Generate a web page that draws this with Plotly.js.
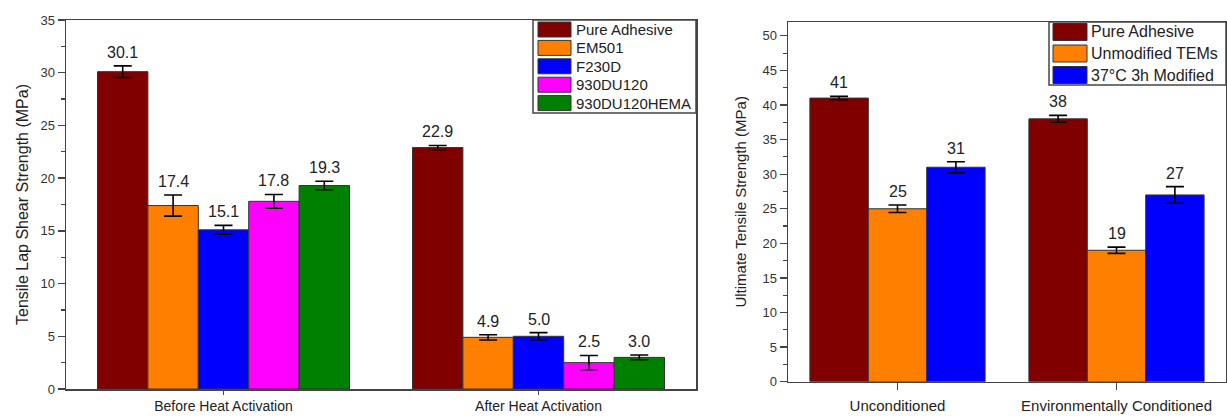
<!DOCTYPE html>
<html>
<head>
<meta charset="utf-8">
<script src="https://cdn.plot.ly/plotly-3.0.1.min.js"></script>
<style>html,body{margin:0;padding:0;background:#fff;}#chart{width:1227px;height:416px;}</style>
</head>
<body>
<div id="chart"></div>
<script>
// ---- Data: left chart (Tensile lap shear strength) ----
const lapCategories = ['Before Heat Activation', 'After Heat Activation'];
const lapSeriesNames = ['Pure Adhesive', 'EM501', 'F230D', '930DU120', '930DU120HEMA'];
const lapPure = [30.1, 22.9];
const lapPureErr = [0.55, 0.2];
const lapEM501 = [17.4, 4.9];
const lapEM501Err = [1.0, 0.25];
const lapF230D = [15.1, 5.0];
const lapF230DErr = [0.42, 0.35];
const lap930DU120 = [17.8, 2.5];
const lap930DU120Err = [0.65, 0.68];
const lap930DU120HEMA = [19.3, 3.0];
const lap930DU120HEMAErr = [0.4, 0.23];

// ---- Data: right chart (Ultimate tensile strength) ----
const utsCategories = ['Unconditioned', 'Environmentally Conditioned'];
const utsSeriesNames = ['Pure Adhesive', 'Unmodified TEMs', '37°C 3h Modified'];
const utsPure = [41, 38];
const utsPureErr = [0.25, 0.5];
const utsUnmodified = [25, 19];
const utsUnmodifiedErr = [0.55, 0.45];
const utsModified = [31, 27];
const utsModifiedErr = [0.8, 1.2];

// ---- Styling ----
const W = 1227, H = 416;
const px = x => x / W;
const py = y => 1 - y / H;
const FONT = 'Arial, "Liberation Sans", sans-serif';
const AX = '#444';
const lapColors = ['#800000', '#FF8000', '#0000FF', '#FF00FF', '#008000'];
const utsColors = ['#800000', '#FF8000', '#0000FF'];

const lapVals = [lapPure, lapEM501, lapF230D, lap930DU120, lap930DU120HEMA];
const lapErrs = [lapPureErr, lapEM501Err, lapF230DErr, lap930DU120Err, lap930DU120HEMAErr];
const utsVals = [utsPure, utsUnmodified, utsModified];
const utsErrs = [utsPureErr, utsUnmodifiedErr, utsModifiedErr];

const traces = [];
const annotations = [];
const shapes = [];

function addGroup(cats, names, vals, errs, colors, xa, ya, capW, fmt) {
  const n = names.length;
  names.forEach((nm, j) => {
    traces.push({
      type: 'bar', name: nm, x: cats, y: vals[j], xaxis: xa, yaxis: ya,
      showlegend: false,
      marker: {color: colors[j], line: {color: '#333', width: 1}},
      error_y: {type: 'data', array: errs[j], visible: true, color: '#000', thickness: 1.6, width: capW},
      hoverinfo: 'x+y+name'
    });
    vals[j].forEach((v, i) => {
      annotations.push({
        x: i + (j - (n - 1) / 2) * (0.8 / n), y: v + errs[j][i],
        xref: xa, yref: ya, text: fmt(v), showarrow: false,
        yanchor: 'bottom', yshift: 3,
        font: {family: FONT, size: 16, color: '#222'}
      });
    });
  });
}
addGroup(lapCategories, lapSeriesNames, lapVals, lapErrs, lapColors, 'x', 'y', 9, v => v.toFixed(1));
addGroup(utsCategories, utsSeriesNames, utsVals, utsErrs, utsColors, 'x2', 'y2', 9, v => String(v));

// ---- Custom legends (box + swatches + text) ----
function addLegend(names, colors, box, sw, rowY0, rowStep, swH, textX, fontSize) {
  shapes.push({type: 'rect', xref: 'paper', yref: 'paper',
    x0: px(box[0]), x1: px(box[1]), y0: py(box[2]), y1: py(box[3]),
    line: {color: AX, width: 1.5}, fillcolor: 'rgba(255,255,255,1)', layer: 'above'});
  names.forEach((nm, k) => {
    const cy = rowY0 + k * rowStep;
    shapes.push({type: 'rect', xref: 'paper', yref: 'paper',
      x0: px(sw[0]), x1: px(sw[1]), y0: py(cy - swH / 2), y1: py(cy + swH / 2),
      line: {color: '#333', width: 1}, fillcolor: colors[k], layer: 'above'});
    annotations.push({xref: 'paper', yref: 'paper', x: px(textX), y: py(cy),
      xanchor: 'left', yanchor: 'middle', text: nm, showarrow: false,
      font: {family: FONT, size: fontSize, color: '#222'}});
  });
}
addLegend(lapSeriesNames, lapColors, [533, 696, 20, 113], [538, 571], 29.5, 18.4, 15, 574, 15);
addLegend(utsSeriesNames, utsColors, [1049, 1226, 22, 85], [1053, 1087], 32, 21.5, 17, 1089, 16);

const yBase = {
  showgrid: false, zeroline: false, showline: true, mirror: true,
  linecolor: AX, linewidth: 1.5, ticks: 'outside', ticklen: 7, tickwidth: 1.3, tickcolor: AX,
  tickfont: {family: FONT, size: 13, color: '#333'},
  minor: {dtick: 2.5, ticks: 'outside', ticklen: 4, tickwidth: 1.2, tickcolor: AX}
};
const xBase = {
  type: 'category', range: [-0.5, 1.5], showgrid: false, zeroline: false, showline: true, mirror: true,
  linecolor: AX, linewidth: 1.5, ticks: 'outside', ticklen: 5, tickwidth: 1.3, tickcolor: AX
};

const layout = {
  width: W, height: H,
  margin: {l: 0, r: 0, t: 0, b: 0},
  paper_bgcolor: '#fff', plot_bgcolor: '#fff',
  barmode: 'group', bargap: 0.2, bargroupgap: 0,
  showlegend: false,
  font: {family: FONT, color: '#222'},
  xaxis: Object.assign({}, xBase, {domain: [px(66), px(696)], anchor: 'y', ticklen: 4,
    tickfont: {family: FONT, size: 14, color: '#222'}}),
  yaxis: Object.assign({}, yBase, {domain: [py(389), py(20)], anchor: 'x', range: [0, 35], dtick: 5,
    title: {text: 'Tensile Lap Shear Strength (MPa)', font: {family: FONT, size: 16, color: '#222'}, standoff: 8}}),
  xaxis2: Object.assign({}, xBase, {domain: [px(788), px(1226)], anchor: 'y2', ticklen: 7,
    ticklabelstandoff: 3,
    tickfont: {family: FONT, size: 15, color: '#222'}}),
  yaxis2: Object.assign({}, yBase, {domain: [py(381.7), py(22)], anchor: 'x2', range: [0, 52], dtick: 5,
    title: {text: 'Ultimate Tensile Strength (MPa)', font: {family: FONT, size: 15, color: '#222'}, standoff: 12}}),
  annotations: annotations,
  shapes: shapes
};

Plotly.newPlot('chart', traces, layout, {displayModeBar: false, staticPlot: true});
</script>
</body>
</html>
